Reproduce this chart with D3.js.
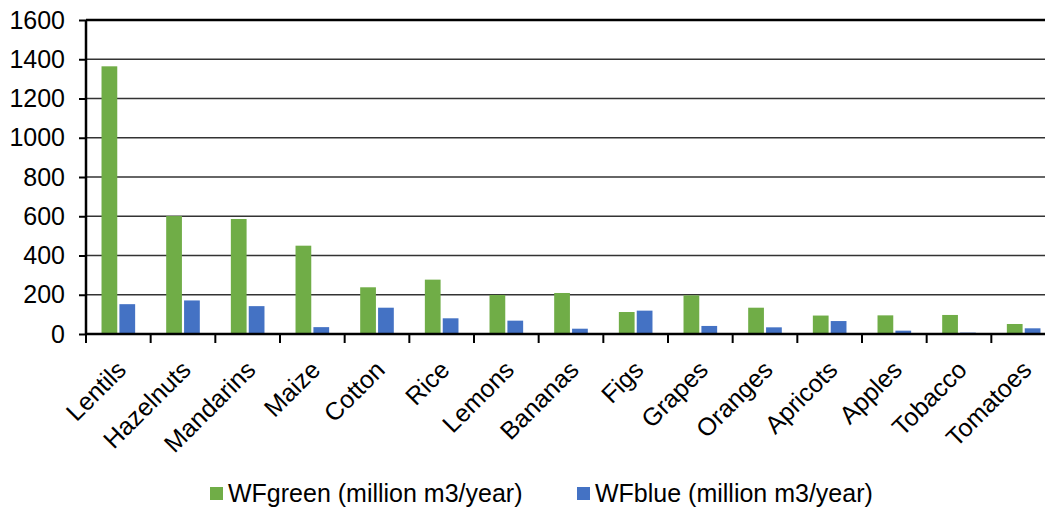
<!DOCTYPE html>
<html>
<head>
<meta charset="utf-8">
<script src="https://cdn.jsdelivr.net/npm/d3@7"></script>
<style>
  body { margin: 0; background: #fff; }
  svg { display: block; font-family: "Liberation Sans", Arial, sans-serif; }
</style>
</head>
<body>
<svg id="chart" width="1045" height="507"></svg>
<script>
const crops = ["Lentils", "Hazelnuts", "Mandarins", "Maize", "Cotton", "Rice", "Lemons",
  "Bananas", "Figs", "Grapes", "Oranges", "Apricots", "Apples", "Tobacco", "Tomatoes"];
const wfGreen = [1364, 601, 586, 450, 238, 277, 199, 209, 112, 197, 134, 94, 95, 97, 51];
const wfBlue = [152, 171, 142, 35, 134, 80, 68, 27, 119, 41, 34, 66, 17, 7, 29];
const yTicks = [0, 200, 400, 600, 800, 1000, 1200, 1400, 1600];
const seriesNames = ["WFgreen (million m3/year)", "WFblue (million m3/year)"];
const colors = ["#70ad47", "#4472c4"];

const svg = d3.select('#chart');
const margin = { left: 86, top: 20, right: -11, bottom: 173 };
const width = 1045, height = 507;
const innerWidth = width - margin.left - margin.right;
const innerHeight = height - margin.top - margin.bottom;

const g = svg.append('g')
  .attr('transform', `translate(${margin.left},${margin.top})`);

const xScale = d3.scaleBand()
  .domain(crops)
  .range([0, innerWidth])
  .paddingInner(0.48)
  .paddingOuter(0.24);

const xSub = d3.scaleBand()
  .domain([0, 1])
  .range([0, xScale.bandwidth()])
  .paddingInner(0.12);

const yScale = d3.scaleLinear()
  .domain([0, 1600])
  .range([innerHeight, 0]);

// gridlines
g.append('g')
  .selectAll('line')
  .data(yTicks.filter(t => t > 0))
  .enter()
  .append('line')
  .attr('x1', 0)
  .attr('x2', innerWidth)
  .attr('y1', d => yScale(d))
  .attr('y2', d => yScale(d))
  .style('stroke', d => d === 1600 ? '#000' : '#333')
  .style('stroke-width', d => d === 1600 ? 2.5 : 1.5);

// bars
const series = [wfGreen, wfBlue];
series.forEach((vals, s) => {
  g.append('g')
    .selectAll('rect')
    .data(crops)
    .enter()
    .append('rect')
    .attr('x', (d, i) => xScale(d) + xSub(s))
    .attr('y', (d, i) => yScale(vals[i]))
    .attr('width', xSub.bandwidth())
    .attr('height', (d, i) => innerHeight - yScale(vals[i]))
    .style('fill', colors[s]);
});

// y axis
const yAxis = g.append('g')
  .call(d3.axisLeft(yScale).tickValues(yTicks).tickSize(7).tickPadding(14).tickFormat(d3.format('d')));
yAxis.select('.domain').remove();
yAxis.selectAll('line').style('stroke', '#000').style('stroke-width', 2);
yAxis.selectAll('text').style('font-size', '25px').style('fill', '#000');
g.append('line')
  .attr('x1', 0).attr('x2', 0)
  .attr('y1', 0).attr('y2', innerHeight + 1)
  .style('stroke', '#000').style('stroke-width', 2.5);

// x axis
const step = xScale.step();
const bounds = crops.map((c, i) => i * step).concat([crops.length * step]);
g.append('line')
  .attr('x1', 0).attr('x2', innerWidth)
  .attr('y1', innerHeight).attr('y2', innerHeight)
  .style('stroke', '#000').style('stroke-width', 2.5);
g.append('g')
  .selectAll('line')
  .data(bounds)
  .enter()
  .append('line')
  .attr('x1', d => d).attr('x2', d => d)
  .attr('y1', innerHeight).attr('y2', innerHeight + 9)
  .style('stroke', '#000').style('stroke-width', 2);

g.append('g')
  .selectAll('text')
  .data(crops)
  .enter()
  .append('text')
  .attr('transform', (d, i) => `translate(${i * step + step / 2 - 3},${innerHeight + 25}) rotate(-45)`)
  .style('text-anchor', 'end')
  .attr('dy', '0.7em')
  .style('font-size', '25px')
  .style('fill', '#000')
  .text(d => d);

// legend
const legendX = [210, 577];
const legend = svg.append('g');
seriesNames.forEach((name, s) => {
  legend.append('rect')
    .attr('x', legendX[s]).attr('y', 487)
    .attr('width', 13).attr('height', 13)
    .style('fill', colors[s]);
  legend.append('text')
    .attr('x', legendX[s] + 18).attr('y', 502)
    .style('font-size', '25px')
    .style('fill', '#000')
    .text(name);
});
</script>
</body>
</html>
